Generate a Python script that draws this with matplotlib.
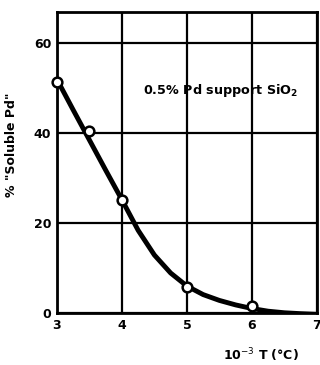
import numpy as np
import matplotlib.pyplot as plt

# measured points
temp_pts = [3.0, 3.5, 4.0, 5.0, 6.0]
soluble_pts = [51.5, 40.5, 25.2, 5.8, 1.5]

# smooth fitted curve
temp_curve = [3.0, 3.25, 3.5, 3.75, 4.0, 4.25, 4.5, 4.75, 5.0, 5.25, 5.5,
              5.75, 6.0, 6.25, 6.5, 6.75, 7.0]
soluble_curve = [52, 45.2, 38.5, 31.8, 25.2, 18.4, 12.9, 8.9, 6.0, 4.1, 2.8,
                 1.8, 1.0, 0.4, 0.05, -0.15, -0.3]

xticks = [3, 4, 5, 6, 7]
yticks = [0, 20, 40, 60]

plt.rcParams['font.family'] = ['DejaVu Sans']
fig = plt.figure(figsize=(3.2, 3.65), dpi=100)
ax = fig.add_axes([0.178, 0.1425, 0.812, 0.8245])

for x in xticks:
    ax.axvline(x, color='black', lw=1.6, zorder=1)
for y in yticks:
    ax.axhline(y, color='black', lw=1.6, zorder=1)

ax.plot(temp_curve, soluble_curve, color='black', lw=3.5, zorder=2,
        solid_capstyle='round', solid_joinstyle='round')
ax.plot(temp_pts, soluble_pts, 'o', ms=7, mfc='white', mec='black', mew=1.8,
        zorder=3, clip_on=False)

ax.set_xlim(3, 7)
ax.set_ylim(0, 67)
ax.set_xticks(xticks)
ax.set_yticks(yticks)
ax.set_xticklabels([str(t) for t in xticks], fontweight='bold', fontsize=9)
ax.set_yticklabels([str(t) for t in yticks], fontweight='bold', fontsize=9)
ax.tick_params(length=0, pad=4)
for s in ax.spines.values():
    s.set_linewidth(2)

ax.text(4.33, 49.5, '0.5% Pd support SiO$_\\mathbf{2}$', fontsize=9.2,
        fontweight='bold', va='center')
ax.set_xlabel('10$^{-3}$ T (°C)', fontweight='bold', fontsize=9)
ax.xaxis.set_label_coords(0.785, -0.11)
ax.set_ylabel('% "Soluble Pd"', fontweight='bold', fontsize=9)
ax.yaxis.set_label_coords(-0.15, 0.56)

fig.savefig('out.png', dpi=100)
